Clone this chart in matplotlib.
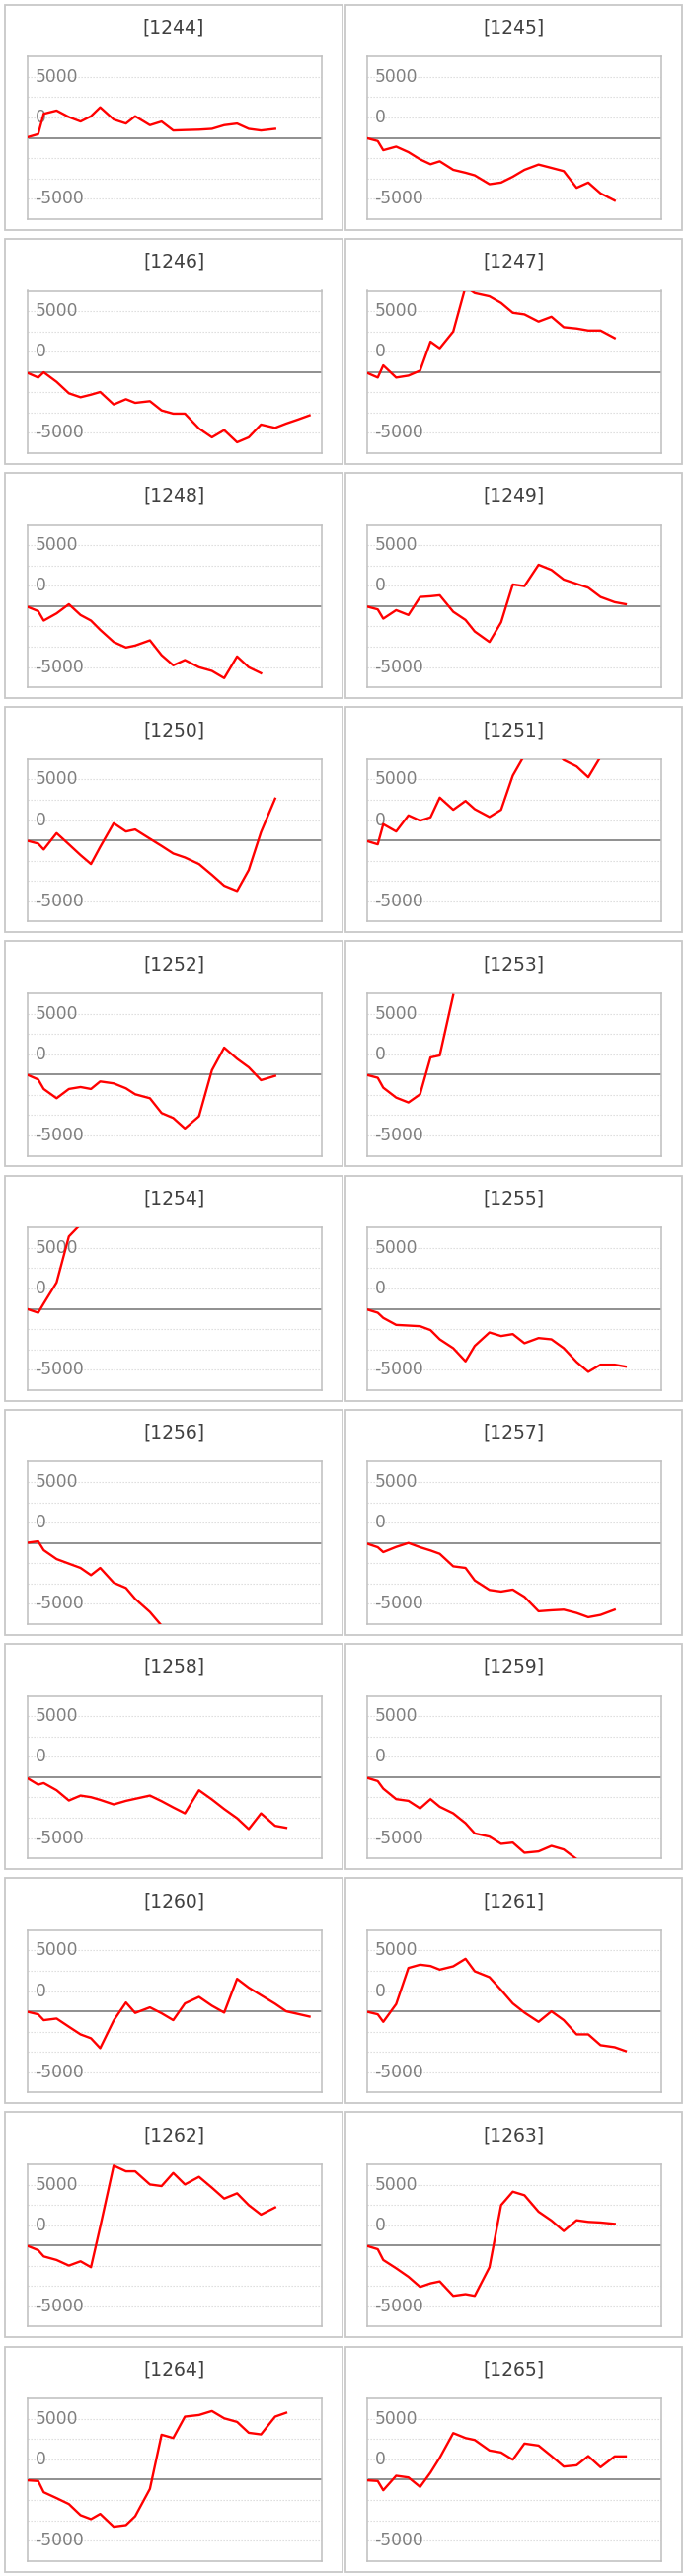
import matplotlib
matplotlib.use("Agg")
import matplotlib.pyplot as plt
from matplotlib.patches import Rectangle
from matplotlib.transforms import blended_transform_factory

# trading-day positions along the shared x axis
x_days = [0.1, 0.9, 1.35, 2.4, 3.4, 4.35, 5.2, 5.95, 7.05, 8.05, 8.8, 10.0, 10.95,
          11.9, 12.85, 14.0, 15.05, 16.05, 17.1, 18.05, 19.05, 20.2, 21.1, 22.05, 23.0]

codes = ["1244", "1245", "1246", "1247", "1248", "1249", "1250", "1251", "1252", "1253", "1254",
         "1255", "1256", "1257", "1258", "1259", "1260", "1261", "1262", "1263", "1264", "1265"]

s1244 = [100, 450, 2950, 3350, 2550, 2000, 2650, 3750, 2250, 1750, 2650, 1550, 2000, 900,
         950, 1000, 1100, 1550, 1750, 1100, 900, 1100]
s1245 = [-80, -400, -1530, -1090, -1770, -2660, -3260, -2900, -3950, -4310, -4630, -5720,
         -5520, -4800, -3950, -3300, -3710, -4110, -6170, -5520, -6850, -7740]
s1246 = [-160, -690, -40, -1220, -2630, -3120, -2800, -2470, -4010, -3360, -3810, -3600,
         -4740, -5140, -5140, -6970, -8060, -7170, -8670, -8060, -6480, -6890, -6360, -5870, -5350]
s1247 = [-160, -690, 810, -690, -450, 160, 3730, 2920, 4980, 10500, 9720, 9320, 8500, 7290,
         7090, 6200, 6800, 5510, 5350, 5100, 5100, 4170]
s1248 = [-120, -610, -1780, -890, 240, -1090, -1780, -2920, -4420, -5100, -4860, -4210,
         -6040, -7290, -6640, -7530, -7980, -8870, -6200, -7530, -8260]
s1249 = [-80, -400, -1540, -490, -1090, 1130, 1220, 1340, -690, -1700, -3120, -4420, -1990,
         2670, 2470, 5100, 4460, 3280, 2750, 2270, 1130, 490, 240]
s1250 = [-80, -400, -1130, 890, -490, -1820, -2920, -810, 2110, 1090, 1340, 200, -690,
         -1620, -2110, -2920, -4250, -5590, -6240, -3650, 1010, 5140]
s1251 = [-120, -490, 1990, 1090, 3080, 2430, 2840, 5270, 3770, 4860, 3850, 2880, 3770, 7980,
         10500, 12000, 11500, 9900, 9110, 7780, 10300]
s1252 = [-80, -610, -1780, -2920, -1780, -1540, -1780, -850, -1090, -1700, -2430, -2920,
         -4740, -5350, -6640, -5140, 530, 3320, 1940, 890, -690, -160]
s1253 = [-80, -400, -1620, -2840, -3440, -2430, 2110, 2350, 9800]
s1254 = [-80, -490, 650, 3240, 8910, 10400]
s1255 = [-120, -490, -1130, -1990, -2070, -2150, -2630, -3770, -4860, -6480, -4580, -2920,
         -3360, -3120, -4250, -3610, -3770, -4860, -6560, -7780, -6890, -6890, -7130]
s1256 = [40, 200, -890, -1990, -2550, -3080, -3970, -3080, -4900, -5550, -6890, -8510, -10200]
s1257 = [-120, -530, -1130, -490, 0, -530, -930, -1340, -2880, -3080, -4620, -5790, -5990,
         -5750, -6640, -8420, -8300, -8220, -8630, -9150, -8870, -8220]
s1258 = [-200, -930, -730, -1620, -2880, -2270, -2470, -2800, -3360, -2920, -2670, -2270,
         -2960, -3730, -4460, -1620, -2750, -3930, -5060, -6400, -4460, -5990, -6240]
s1259 = [-120, -490, -1420, -2710, -2920, -3850, -2710, -3650, -4460, -5670, -6930, -7330,
         -8220, -8060, -9320, -9150, -8470, -8910, -10100]
s1260 = [-80, -370, -1090, -890, -1900, -2840, -3320, -4540, -1130, 1090, -200, 490, -240,
         -1090, 970, 1780, 690, -160, 4010, 2920, 1990, 930, 0, -320, -650]
s1261 = [-80, -370, -1300, 890, 5350, 5750, 5590, 5140, 5550, 6480, 4940, 4210, 2630, 970,
         -160, -1300, 0, -1090, -2840, -2840, -4170, -4420, -4900]
s1262 = [-80, -570, -1340, -1780, -2470, -1940, -2670, 2300, 9850, 9150, 9150, 7530, 7330,
         8950, 7530, 8470, 7130, 5790, 6440, 4980, 3810, 4700]
s1263 = [-80, -450, -1780, -2800, -3850, -5100, -4660, -4420, -6200, -5990, -6200, -2670,
         4980, 6640, 6200, 4170, 3080, 1780, 3120, 2920, 2840, 2670]
s1264 = [-80, -160, -1540, -2270, -3000, -4370, -4860, -4210, -5790, -5590, -4500, -1130,
         5550, 5140, 7780, 7980, 8470, 7570, 7130, 5790, 5590, 7780, 8260]
s1265 = [-80, -160, -1300, 490, 280, -890, 890, 2710, 5750, 5140, 4900, 3610, 3360, 2470,
         4460, 4210, 2920, 1620, 1780, 2920, 1540, 2880, 2880]

series = [s1244, s1245, s1246, s1247, s1248, s1249, s1250, s1251, s1252, s1253, s1254,
          s1255, s1256, s1257, s1258, s1259, s1260, s1261, s1262, s1263, s1264, s1265]

tick_labels = ["5000", "0", "-5000"]

W, H = 696, 2609
ROW = 237.2

fig = plt.figure(figsize=(W / 100, H / 100), dpi=100)
fig.patch.set_facecolor("white")

for i, (code, vals) in enumerate(zip(codes, series)):
    row, col = divmod(i, 2)
    top = row * ROW

    # outer panel frame
    px0, px1 = (5, 347) if col == 0 else (350, 691)
    fig.add_artist(Rectangle((px0 / W, 1 - (top + 232.5) / H), (px1 - px0) / W, 228 / H,
                             transform=fig.transFigure, fill=False,
                             edgecolor="#c8c8c8", linewidth=1.3))
    fig.text((px0 + px1) / 2 / W, 1 - (top + 28) / H, f"[{code}]",
             ha="center", va="center", fontsize=13.5, color="#404040")

    ax_left = 27.5 if col == 0 else 371.5
    ax = fig.add_axes([ax_left / W, 1 - (top + 221.7) / H, 298.5 / W, 164.4 / H])
    ax.set_xlim(0, 24)
    ax.set_ylim(-10000, 10000)
    ax.set_xticks([])
    ax.set_yticks([])
    for sp in ax.spines.values():
        sp.set_color("#bfbfbf")
        sp.set_linewidth(1.1)

    for g in [-7500, -5000, -2500, 2500, 5000, 7500]:
        ax.axhline(g, color="#d9d9d9", linewidth=0.8, linestyle=(0, (1.2, 1.5)), zorder=1)
    ax.axhline(0, color="#878787", linewidth=1.3, zorder=2)

    tr = blended_transform_factory(ax.transAxes, ax.transData)
    for lab, yy in zip(tick_labels, [7500, 2500, -7500]):
        ax.text(0.027, yy, lab, transform=tr, ha="left", va="center",
                fontsize=12.3, color="#7f7f7f", zorder=2)

    ax.plot(x_days[:len(vals)], vals, color="#ff0000", linewidth=1.7, zorder=3)

fig.savefig("out.png", dpi=100, facecolor="white")
